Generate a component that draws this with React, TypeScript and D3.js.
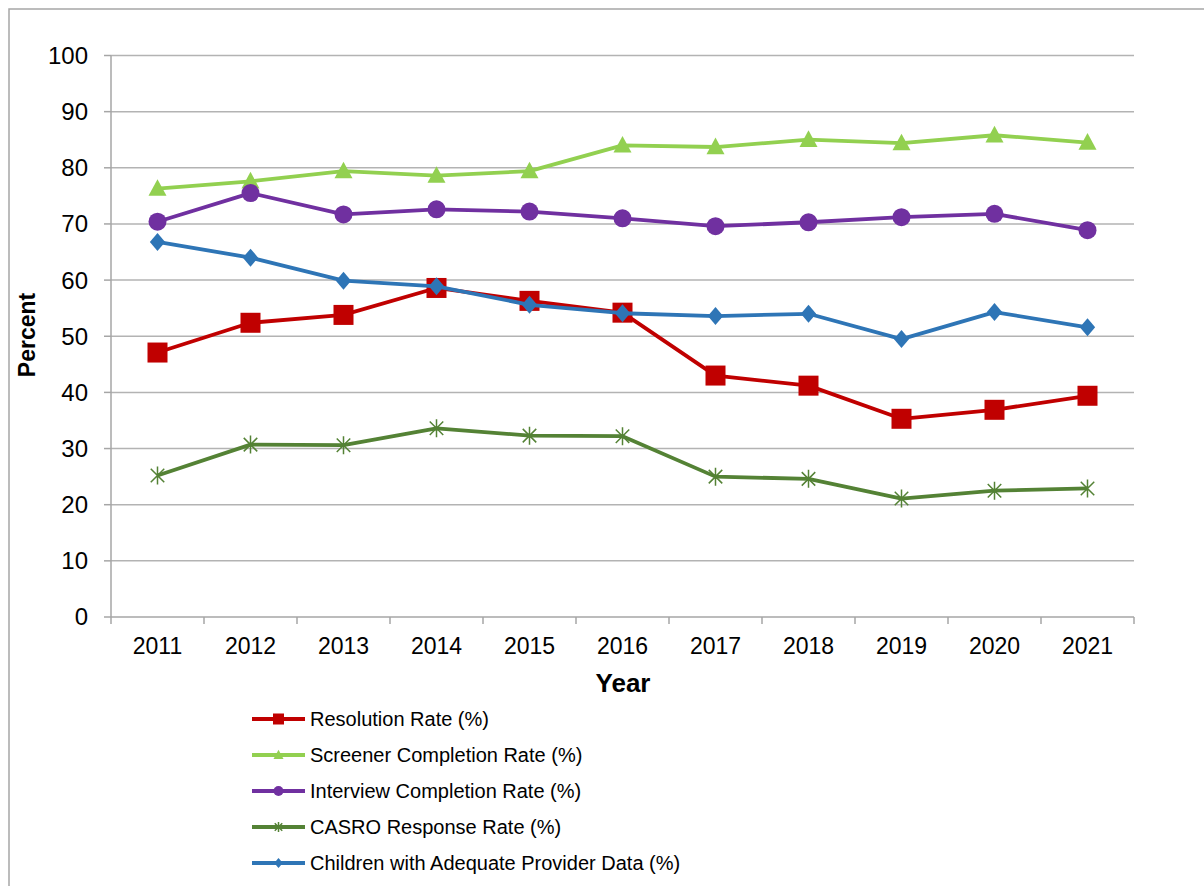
import * as d3 from 'd3';

const years = ['2011', '2012', '2013', '2014', '2015', '2016', '2017', '2018', '2019', '2020', '2021'];
const resolutionRate = [47.1, 52.4, 53.8, 58.6, 56.3, 54.2, 43.0, 41.2, 35.3, 36.9, 39.4];
const screenerRate = [76.3, 77.6, 79.4, 78.6, 79.4, 84.0, 83.7, 85.0, 84.4, 85.8, 84.5];
const interviewRate = [70.4, 75.5, 71.7, 72.6, 72.2, 71.0, 69.6, 70.3, 71.2, 71.8, 68.9];
const casroRate = [25.2, 30.7, 30.6, 33.6, 32.3, 32.2, 25.0, 24.6, 21.1, 22.5, 22.9];
const childrenRate = [66.8, 64.0, 59.9, 58.9, 55.6, 54.1, 53.6, 54.0, 49.5, 54.3, 51.6];
const yTicks = [0, 10, 20, 30, 40, 50, 60, 70, 80, 90, 100];

const series = [
  { name: 'Resolution Rate (%)', values: resolutionRate, color: '#C00000', marker: 'square' },
  { name: 'Screener Completion Rate (%)', values: screenerRate, color: '#92D050', marker: 'triangle' },
  { name: 'Interview Completion Rate (%)', values: interviewRate, color: '#7030A0', marker: 'circle' },
  { name: 'CASRO Response Rate (%)', values: casroRate, color: '#548235', marker: 'star' },
  { name: 'Children with Adequate Provider Data (%)', values: childrenRate, color: '#2E75B6', marker: 'diamond' },
];

const FONT = 'Arial, "Liberation Sans", sans-serif';

function Marker({ type, x, y, color, s }: any) {
  const h = s / 2;
  if (type === 'square') return <rect x={x - h} y={y - h} width={s} height={s} fill={color} />;
  if (type === 'circle') return <circle cx={x} cy={y} r={h} fill={color} />;
  if (type === 'triangle') {
    return <path d={`M${x},${y - h * 1.05}L${x + h},${y + h * 0.8}L${x - h},${y + h * 0.8}Z`} fill={color} />;
  }
  if (type === 'diamond') {
    return <path d={`M${x},${y - h}L${x + h * 0.85},${y}L${x},${y + h}L${x - h * 0.85},${y}Z`} fill={color} />;
  }
  // asterisk style star
  const d = h * 0.75;
  return (
    <path
      d={`M${x - d},${y - d}L${x + d},${y + d}M${x - d},${y + d}L${x + d},${y - d}M${x},${y - h}L${x},${y + h}`}
      stroke={color}
      strokeWidth={1.5}
      fill="none"
    />
  );
}

export default function App() {
  const left = 111;
  const right = 1134;
  const top = 55.5;
  const bottom = 617;

  const x = d3.scaleBand().domain(years).range([left, right]);
  const y = d3.scaleLinear().domain([0, 100]).range([bottom, top]);
  const cx = (yr: string) => (x(yr) as number) + x.bandwidth() / 2;

  const line = d3
    .line<number>()
    .x((_, i) => cx(years[i]))
    .y((d) => y(d));

  const legendX = 252;
  const legendY = 719;
  const legendStep = 36;

  return (
    <svg
      width={1204}
      height={886}
      style={{ position: 'absolute', left: 0, top: 0, display: 'block', background: '#fff' }}
      fontFamily={FONT}
    >
      <rect x={9} y={9} width={1220} height={900} fill="#fff" stroke="#a6a6a6" strokeWidth={1.5} />

      {/* gridlines + y ticks */}
      {yTicks.map((t) => (
        <g key={t}>
          {t > 0 && <line x1={left} x2={right} y1={y(t)} y2={y(t)} stroke="#b3b3b3" strokeWidth={1.5} />}
          <line x1={left - 7} x2={left} y1={y(t)} y2={y(t)} stroke="#a6a6a6" strokeWidth={1.5} />
          <text x={88} y={y(t)} dy="0.35em" textAnchor="end" fontSize={24} fill="#000">
            {t}
          </text>
        </g>
      ))}

      {/* axes */}
      <line x1={left} x2={left} y1={top} y2={bottom} stroke="#a6a6a6" strokeWidth={1.5} />
      <line x1={left} x2={right} y1={bottom} y2={bottom} stroke="#a6a6a6" strokeWidth={1.5} />
      {years.concat(['end']).map((yr, i) => {
        const tx = left + i * x.bandwidth();
        return <line key={yr} x1={tx} x2={tx} y1={bottom} y2={bottom + 7} stroke="#a6a6a6" strokeWidth={1.5} />;
      })}
      {years.map((yr) => (
        <text key={yr} x={cx(yr)} y={654} textAnchor="middle" fontSize={23} fill="#000">
          {yr}
        </text>
      ))}

      <text x={623} y={692} textAnchor="middle" fontSize={26} fontWeight="bold" fill="#000">
        Year
      </text>
      <text
        transform="translate(35,335) rotate(-90)"
        textAnchor="middle"
        fontSize={23}
        fontWeight="bold"
        fill="#000"
      >
        Percent
      </text>

      {/* series */}
      {series.map((s) => (
        <g key={s.name}>
          <path d={line(s.values) as string} fill="none" stroke={s.color} strokeWidth={3.8} strokeLinejoin="round" />
          {s.values.map((v, i) => (
            <Marker key={i} type={s.marker} x={cx(years[i])} y={y(v)} color={s.color} s={s.marker === 'square' ? 20 : 18} />
          ))}
        </g>
      ))}

      {/* legend */}
      {series.map((s, i) => {
        const ly = legendY + i * legendStep;
        return (
          <g key={s.name}>
            <line x1={legendX} x2={legendX + 53} y1={ly} y2={ly} stroke={s.color} strokeWidth={3.8} />
            <Marker type={s.marker} x={legendX + 26.5} y={ly} color={s.color} s={s.marker === 'square' ? 11 : 10} />
            <text x={legendX + 58} y={ly} dy="0.35em" fontSize={20} fill="#000">
              {s.name}
            </text>
          </g>
        );
      })}
    </svg>
  );
}
